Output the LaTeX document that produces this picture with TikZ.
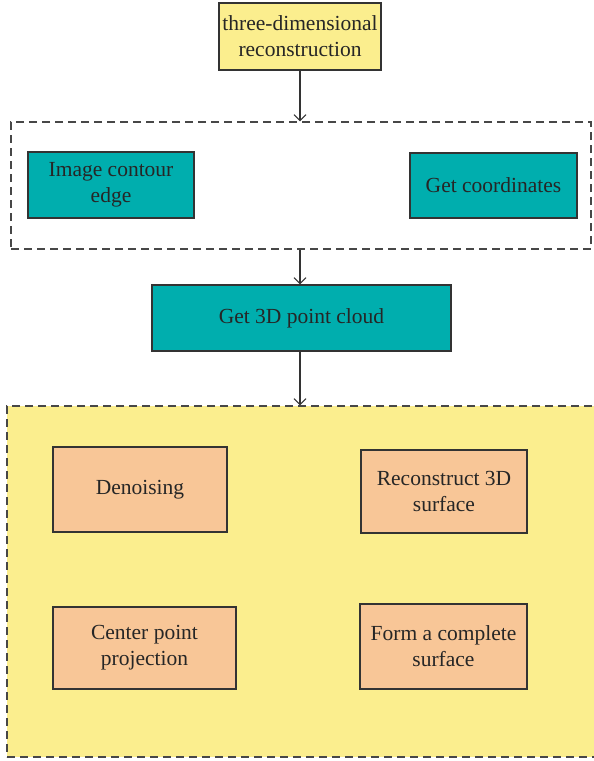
\documentclass[tikz,border=0pt]{standalone}
\usepackage{fontspec}
\setmainfont{Liberation Serif}
\usepackage{tikz}
\usetikzlibrary{arrows.meta}
\definecolor{paleyellow}{HTML}{FBEE8E}
\definecolor{tealbox}{HTML}{00AEAE}
\definecolor{peachbox}{HTML}{F8C697}
\definecolor{edgegray}{HTML}{333333}
\tikzset{
  blk/.style={rectangle, draw=edgegray, line width=1.1pt, align=center,
    text=black!85, font=\fontsize{21.5}{26}\selectfont, inner sep=2pt},
  titlebox/.style={blk, fill=paleyellow},
  tealblk/.style={blk, fill=tealbox},
  peachblk/.style={blk, fill=peachbox},
  grpframe/.style={rectangle, draw=edgegray!90, line width=1.1pt, dash pattern=on 8pt off 5pt},
  flow/.style={-{Straight Barb[length=6pt,width=12pt]}, line width=1.1pt, draw=edgegray},
  >=Stealth
}

\begin{document}
\begin{tikzpicture}[x=1pt, y=-1pt]
  \useasboundingbox (0,0) rectangle (594,761);
  % frames
  \node[grpframe, minimum width=580, minimum height=127] (grp1) at (301,185.5) {};
  \node[grpframe, fill=paleyellow, minimum width=598, minimum height=351] (grp2) at (306,581.5) {};
  % boxes
  \node[titlebox, minimum width=162, minimum height=67] (recon3d) at (300,36.5) {three-dimensional\\reconstruction};
  \node[tealblk, minimum width=166, minimum height=66] (contour) at (111,185) {Image contour\\edge};
  \node[tealblk, minimum width=167, minimum height=65] (coords) at (493.5,185.5) {Get coordinates};
  \node[tealblk, minimum width=299, minimum height=66] (cloud) at (301.5,318) {Get 3D point cloud};
  \node[peachblk, minimum width=174, minimum height=85] (denoise) at (140,489.5) {Denoising};
  \node[peachblk, minimum width=166, minimum height=83] (surf) at (444,491.5) {Reconstruct 3D\\surface};
  \node[peachblk, minimum width=183, minimum height=82] (proj) at (144.5,648) {Center point\\projection};
  \node[peachblk, minimum width=167, minimum height=85] (complete) at (443.5,646.5) {Form a complete\\surface};
  % arrows
  \draw[flow] (recon3d.south) -- (recon3d.south |- grp1.north);
  \draw[flow] (grp1.south -| recon3d.south) -- (recon3d.south |- cloud.north);
  \draw[flow] (recon3d.south |- cloud.south) -- (recon3d.south |- grp2.north);
\end{tikzpicture}
\end{document}
